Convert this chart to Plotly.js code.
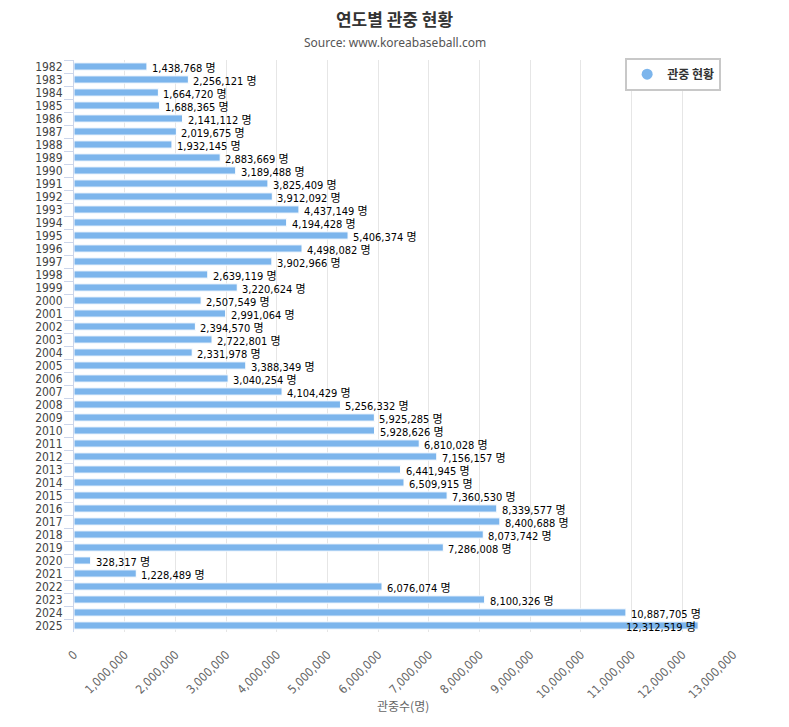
<!DOCTYPE html>
<html>
<head>
<meta charset="utf-8">
<script src="https://cdn.plot.ly/plotly-3.0.1.min.js"></script>
<style>
  html, body { margin: 0; padding: 0; background: #fff; }
  #myChart { width: 789px; height: 727px; }
</style>
</head>
<body>
<div id="myChart"></div>
<script>
// 연도별 관중 현황 (KBO)
const years = [
  "1982", "1983", "1984", "1985", "1986", "1987", "1988", "1989", "1990", "1991",
  "1992", "1993", "1994", "1995", "1996", "1997", "1998", "1999", "2000", "2001",
  "2002", "2003", "2004", "2005", "2006", "2007", "2008", "2009", "2010", "2011",
  "2012", "2013", "2014", "2015", "2016", "2017", "2018", "2019", "2020", "2021",
  "2022", "2023", "2024", "2025"
];
const attendance = [
  1438768, 2256121, 1664720, 1688365, 2141112, 2019675, 1932145, 2883669, 3189488, 3825409,
  3912092, 4437149, 4194428, 5406374, 4498082, 3902966, 2639119, 3220624, 2507549, 2991064,
  2394570, 2722801, 2331978, 3388349, 3040254, 4104429, 5256332, 5925285, 5928626, 6810028,
  7156157, 6441945, 6509915, 7360530, 8339577, 8400688, 8073742, 7286008, 328317, 1228489,
  6076074, 8100326, 10887705, 12312519
];
const xTicks = [0, 1000000, 2000000, 3000000, 4000000, 5000000, 6000000,
  7000000, 8000000, 9000000, 10000000, 11000000, 12000000, 13000000];

const BAR = "#7cb5ec";
const narrow = "DejaVu Sans Condensed, Liberation Sans Narrow, Noto Sans CJK KR, sans-serif";
const kr = "Noto Sans CJK KR, Noto Sans, sans-serif";

var fmt = (v) => v.toLocaleString("en-US");

var trace1 = {
  type: "bar",
  orientation: "h",
  x: attendance,
  y: years,
  width: 0.56,
  marker: { color: BAR, line: { color: "#ffffff", width: 1 } },
  hovertemplate: "%{y}: %{x:,} 명<extra></extra>",
  showlegend: false,
};

// 범례용 (원형 마커) - 숨은 축에 둠
var trace2 = {
  type: "scatter",
  mode: "markers",
  x: [0],
  y: [0],
  xaxis: "x2",
  yaxis: "y2",
  name: "<b>관중 현황</b>",
  marker: { color: BAR, size: 11, symbol: "circle" },
  hoverinfo: "skip",
  showlegend: true,
};

// 막대 끝 값 라벨 (y는 카테고리 인덱스)
var labels = attendance.map((v, i) => {
  var inside = v > 12000000;
  return {
    x: v,
    y: i,
    xref: "x",
    yref: "y",
    text: fmt(v) + " 명",
    showarrow: false,
    xanchor: inside ? "right" : "left",
    xshift: inside ? 0 : 3,
    yshift: -2,
    font: { family: narrow, size: 11, color: "#000000" },
  };
});

var layout = {
  width: 789,
  height: 727,
  paper_bgcolor: "#ffffff",
  plot_bgcolor: "#ffffff",
  margin: { l: 74, r: 56, t: 60, b: 95 },
  title: {
    text: "<b>연도별 관중 현황</b>",
    x: 0.5,
    xref: "container",
    y: 0.973,
    yref: "container",
    yanchor: "middle",
    font: { family: kr, size: 17, color: "#333333" },
  },
  xaxis: {
    range: [0, 13000000],
    autorange: false,
    tickvals: xTicks,
    tickformat: ",d",
    tickangle: -45,
    ticks: "outside",
    ticklen: 10,
    tickcolor: "rgba(0,0,0,0)",
    tickfont: { family: narrow, size: 12, color: "#666666" },
    showgrid: true,
    gridcolor: "#e6e6e6",
    gridwidth: 1,
    zeroline: false,
    showline: false,
    fixedrange: true,
  },
  yaxis: {
    type: "category",
    categoryorder: "array",
    categoryarray: years,
    range: [43.5, -0.5],
    autorange: false,
    tickmode: "linear",
    tick0: 0,
    dtick: 1,
    tickson: "boundaries",
    ticks: "outside",
    ticklen: 9,
    ticklabelstandoff: 8,
    tickcolor: "#ccd6eb",
    showline: true,
    linecolor: "#ccd6eb",
    linewidth: 1,
    showgrid: false,
    tickfont: { family: narrow, size: 12, color: "#444444" },
    fixedrange: true,
  },
  xaxis2: { overlaying: "x", visible: false, range: [10, 11], fixedrange: true },
  yaxis2: { overlaying: "y", visible: false, range: [10, 11], fixedrange: true },
  legend: {
    x: 0.982,
    xanchor: "right",
    y: 1.004,
    yanchor: "top",
    bgcolor: "#ffffff",
    bordercolor: "#c8c8c8",
    borderwidth: 2,
    itemwidth: 30,
    font: { family: kr, size: 12, color: "#333333" },
  },
  annotations: [
    {
      text: "Source: www.koreabaseball.com",
      xref: "paper",
      yref: "paper",
      x: (394.5 - 74) / 659,
      y: 1 + 18 / 572,
      xanchor: "center",
      yanchor: "middle",
      showarrow: false,
      font: { family: "Noto Sans, sans-serif", size: 12, color: "#555555" },
    },
    {
      text: "관중수(명)",
      xref: "paper",
      yref: "paper",
      x: (403 - 74) / 659,
      y: -73 / 572,
      xanchor: "center",
      yanchor: "middle",
      showarrow: false,
      font: { family: kr, size: 12, color: "#666666" },
    },
  ].concat(labels),
};

Plotly.newPlot("myChart", [trace1, trace2], layout, { displayModeBar: false });
</script>
</body>
</html>
